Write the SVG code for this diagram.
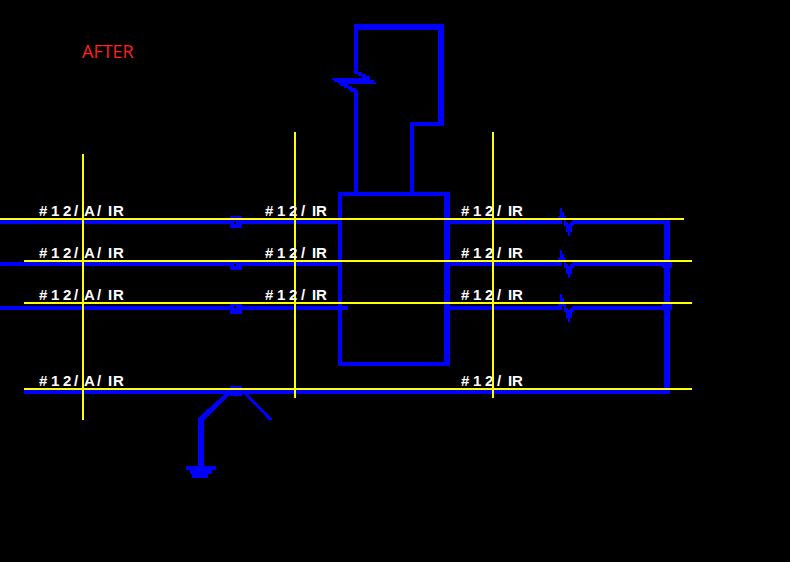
<svg xmlns="http://www.w3.org/2000/svg" xmlns:xlink="http://www.w3.org/1999/xlink" width="790" height="562" viewBox="0 0 790 562">
<style>
.b{fill:#0000ff;shape-rendering:crispEdges}
.k{fill:#000000;shape-rendering:crispEdges}
.bl{fill:none;stroke:#0000ff;shape-rendering:crispEdges}
.y{stroke:#ffff00;stroke-width:2;fill:none;shape-rendering:crispEdges}
.t{font-family:"Liberation Sans",Arial,sans-serif;font-size:15px;font-weight:bold;fill:#ffffff}
</style>
<defs>
<path id="sq" class="b" d="M560 -12H562V-8H564V-4H566V0H558V-4H560ZM564 0H566V2H568V4H570V2H572V0H574V6H572V12H570V16H568V12H566V6H564Z"/>
</defs>
<rect width="790" height="562" fill="#000000"/>
<text x="82" y="58" font-family="'Open Sans',sans-serif" font-size="18" fill="#ff2020">AFTER</text>
<g id="connectors">
<g id="buses">
<rect class="b" x="0" y="220" width="338" height="4"/>
<rect class="b" x="450" y="220" width="112" height="4"/>
<rect class="b" x="572" y="220" width="98" height="4"/>
<rect class="b" x="0" y="262" width="338" height="4"/>
<rect class="b" x="450" y="262" width="112" height="4"/>
<rect class="b" x="572" y="262" width="92" height="4"/>
<rect class="b" x="0" y="306" width="348" height="4"/>
<rect class="b" x="450" y="306" width="112" height="4"/>
<rect class="b" x="572" y="306" width="92" height="4"/>
<rect class="b" x="24" y="390" width="646" height="4"/>
<rect class="b" x="664" y="220" width="6" height="170"/>
<rect class="b" x="662" y="262" width="10" height="6"/>
<rect class="b" x="662" y="304" width="10" height="6"/>
</g>
<g id="breaks">
<use xlink:href="#sq" href="#sq" y="220"/>
<use xlink:href="#sq" href="#sq" y="262"/>
<use xlink:href="#sq" href="#sq" y="306"/>
</g>
<g id="ticks">
<rect class="b" x="230" y="216" width="12" height="12"/>
<rect class="b" x="230" y="262" width="12" height="8"/>
<rect class="b" x="230" y="304" width="12" height="10"/>
<rect class="b" x="230" y="386" width="12" height="10"/>
<rect class="k" x="234" y="222" width="2" height="2"/>
<rect class="k" x="234" y="264" width="2" height="2"/>
<rect class="k" x="234" y="306" width="2" height="2"/>
</g>
<g id="upper-loop">
<path class="b" d="M354 24H444V126H414V192H410V122H438V30H358V72H354Z"/>
<rect class="b" x="354" y="91" width="4" height="101"/>
<path class="b" d="M354 72H362V74H366V76H370V80H374V82H376V84H348V86H352V88H356V90H358V92H350V90H348V88H344V86H340V84H338V82H334V80H332V78H362V76H358V74H354Z"/>
</g>
<g id="box">
<path class="b" d="M338 192H450V366H338ZM342 196V362H444V196Z" fill-rule="evenodd"/>
</g>
<g id="ground">
<path class="b" d="M198 418L227 392H232L204 420V466H198Z"/>
<path class="bl" stroke-width="3" d="M245 393L271 420"/>
<path class="b" d="M186 466H216V470H212V474H208V478H192V474H190V470H186Z"/>
</g>
</g>
<g id="wires">
<path class="y" d="M0 219H684M24 261H692M24 303H692M24 389H692"/>
<path class="y" d="M83 154V420M295 132V398M493 132V398"/>
</g>
<g id="labels">
<text class="t" y="216" x="39 51 63 74 84 97 108 113">#12/A/IR</text>
<text class="t" y="258" x="39 51 63 74 84 97 108 113">#12/A/IR</text>
<text class="t" y="300" x="39 51 63 74 84 97 108 113">#12/A/IR</text>
<text class="t" y="386" x="39 51 63 74 84 97 108 113">#12/A/IR</text>
<text class="t" y="216" x="265 277 289 301 312 316">#12/IR</text>
<text class="t" y="258" x="265 277 289 301 312 316">#12/IR</text>
<text class="t" y="300" x="265 277 289 301 312 316">#12/IR</text>
<text class="t" y="216" x="461 473 485 497 508 512">#12/IR</text>
<text class="t" y="258" x="461 473 485 497 508 512">#12/IR</text>
<text class="t" y="300" x="461 473 485 497 508 512">#12/IR</text>
<text class="t" y="386" x="461 473 485 497 508 512">#12/IR</text>
</g>
</svg>
